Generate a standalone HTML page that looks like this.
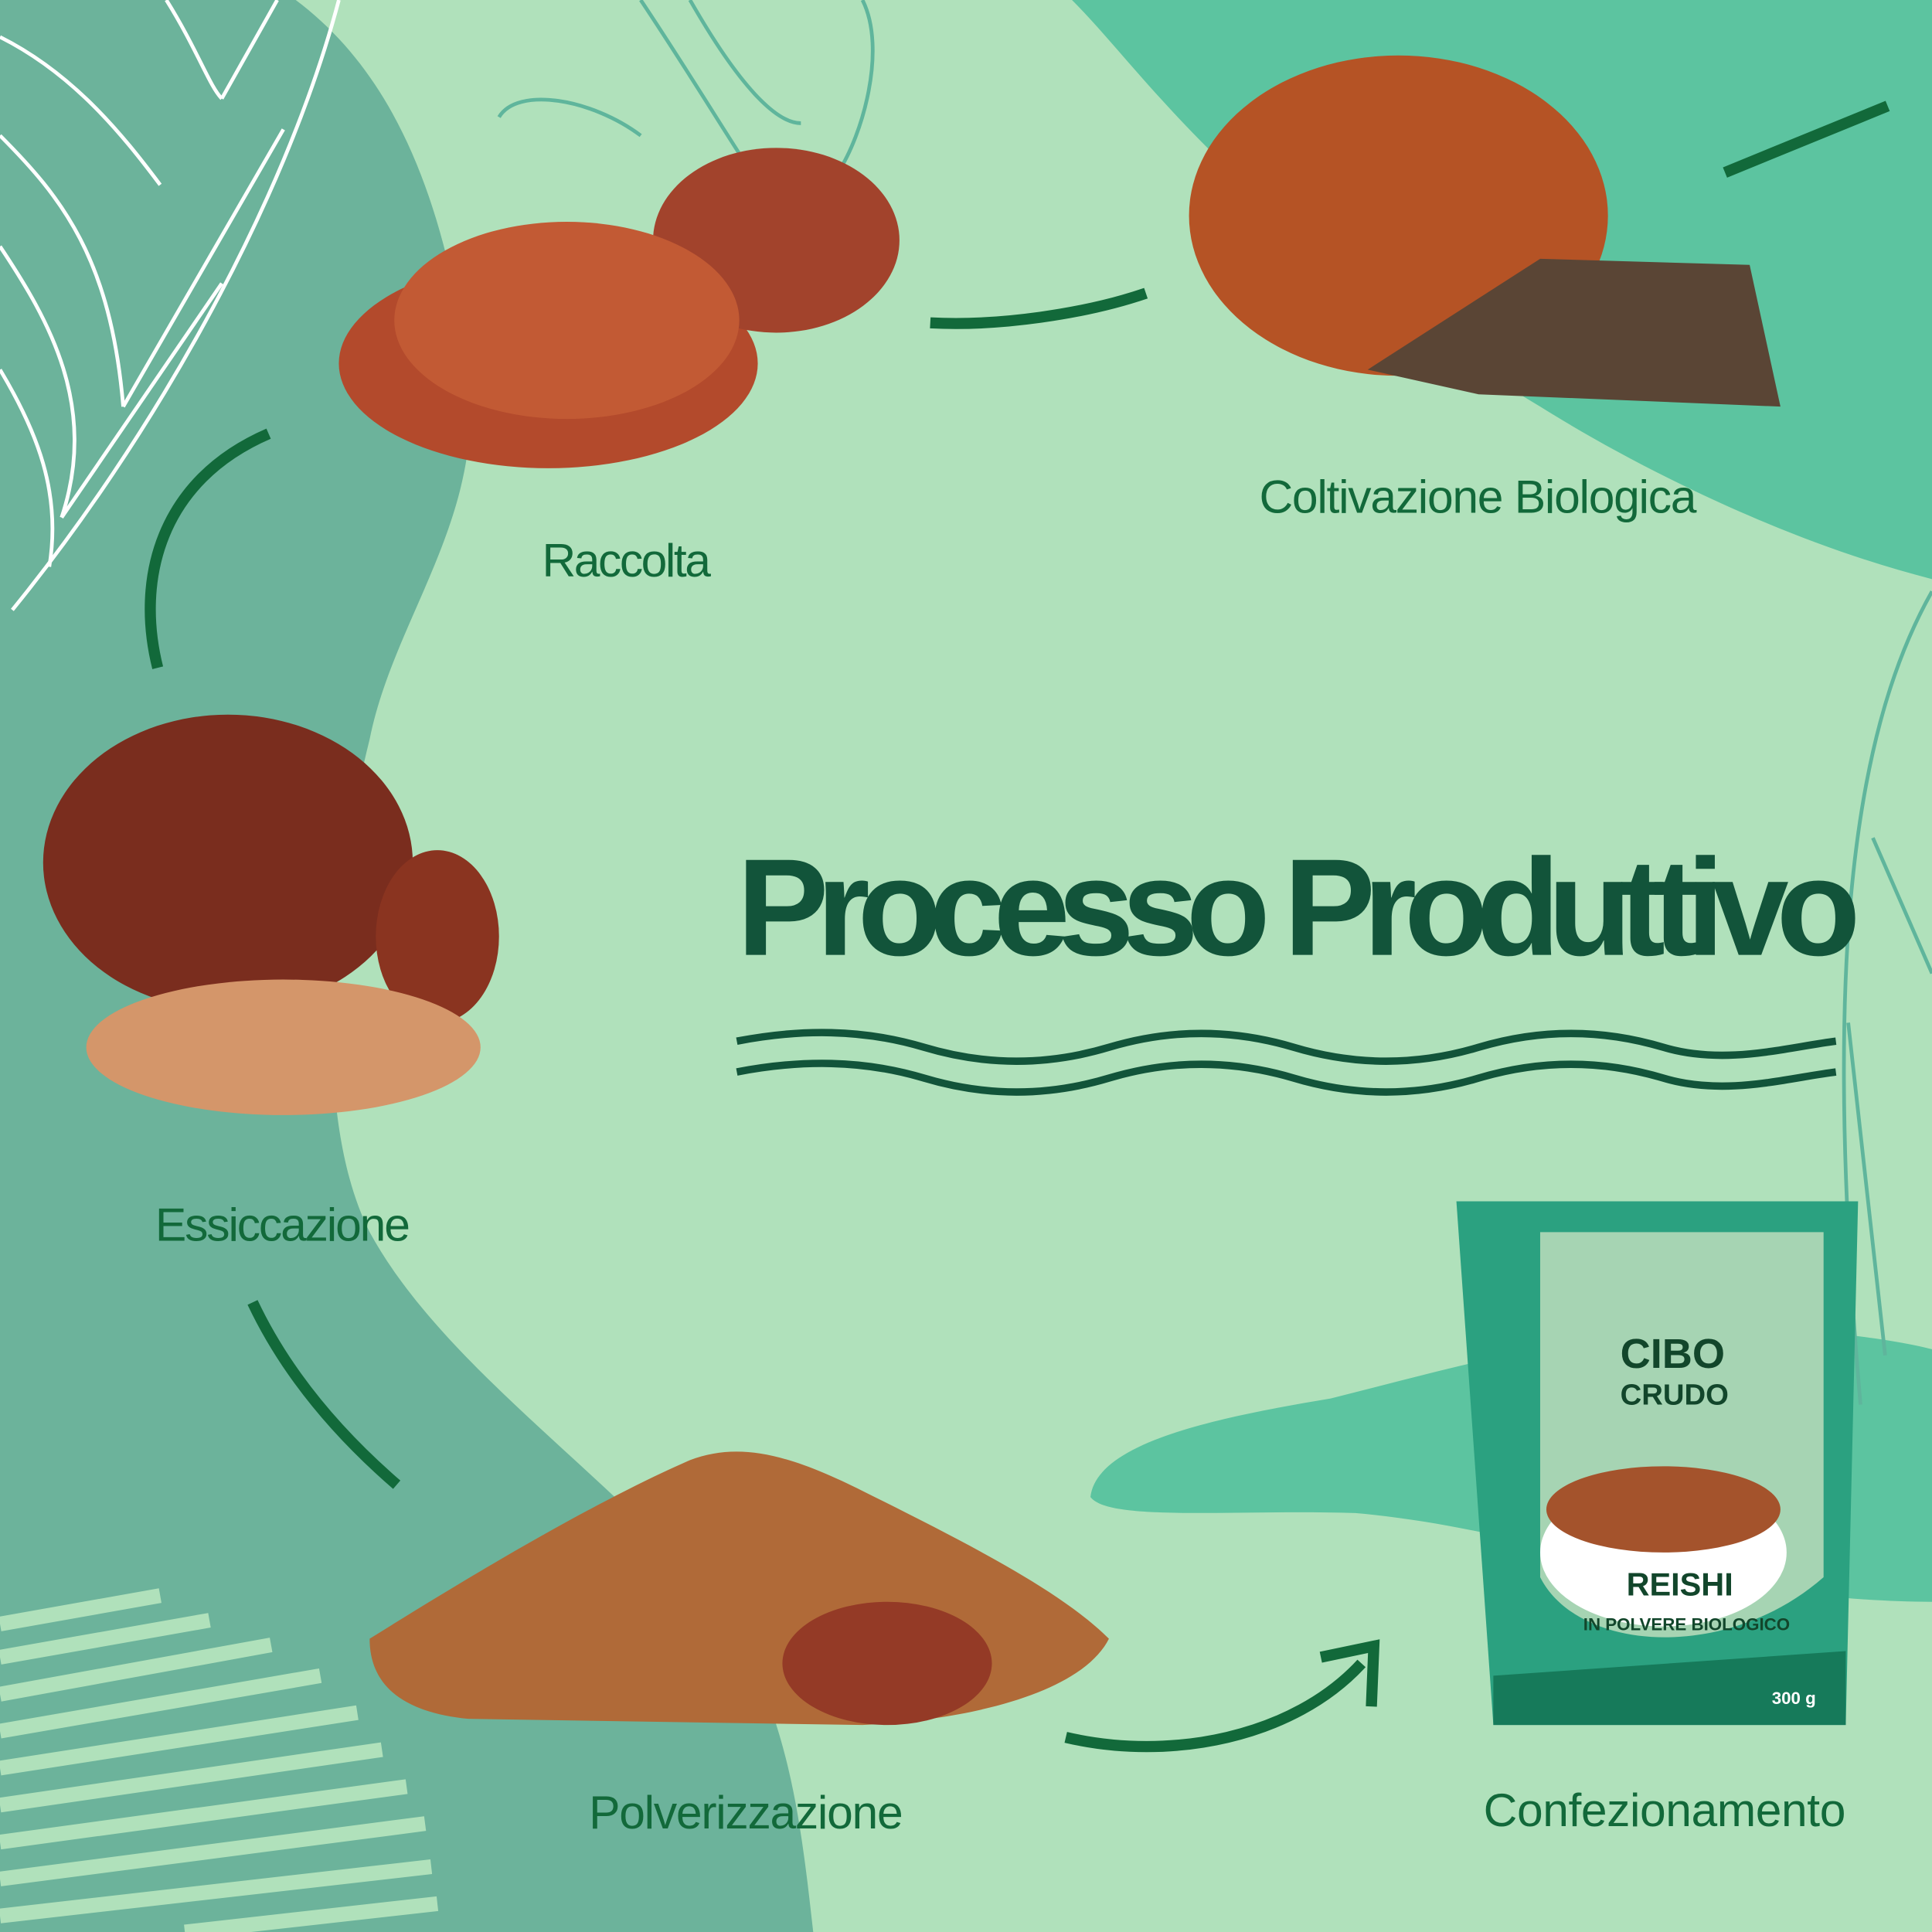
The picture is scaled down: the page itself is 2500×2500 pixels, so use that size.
<!DOCTYPE html>
<html><head><meta charset="utf-8"><style>html,body{margin:0;padding:0;width:2500px;height:2500px;overflow:hidden;background:#b0e1bb}svg{display:block}</style></head><body>
<svg width="2500" height="2500" viewBox="0 0 1568 1568" xmlns="http://www.w3.org/2000/svg">
<rect width="1568" height="1568" fill="#b0e1bb"/>
<path d="M0 0 L240 0 C320 60 360 160 380 300 C395 420 320 500 300 600 C270 720 250 900 300 1000 C360 1110 500 1200 580 1300 C640 1380 650 1480 660 1568 L0 1568 Z" fill="#6cb39b"/>
<path d="M870 0 L1568 0 L1568 470 C1450 440 1330 380 1250 330 C1150 270 1050 200 980 120 C930 70 900 30 870 0 Z" fill="#5cc4a0"/>
<path d="M885 1215 C890 1170 990 1150 1080 1135 C1180 1110 1280 1080 1400 1078 C1480 1078 1540 1088 1568 1095 L1568 1300 C1500 1300 1420 1290 1350 1275 C1250 1255 1180 1235 1100 1228 C1000 1225 900 1235 885 1215 Z" fill="#5cc4a0"/>
<g stroke="#ffffff" stroke-width="3" fill="none">
<path d="M10 495 C120 360 230 170 275 0"/>
<path d="M0 30 C60 60 100 110 130 150"/>
<path d="M0 110 C50 160 90 210 100 330"/>
<path d="M0 200 C40 260 80 330 50 420"/>
<path d="M0 300 C30 350 50 400 40 460"/>
<path d="M135 0 C160 40 170 70 180 80"/>
<path d="M180 80 L225 0"/><path d="M100 330 L230 105"/><path d="M50 420 L180 230"/>
</g>
<g stroke="#5fb59c" stroke-width="3" fill="none">
<path d="M520 0 C560 60 590 110 610 140"/><path d="M560 0 C600 70 630 100 650 100"/><path d="M700 0 C720 40 700 110 680 140"/>
<path d="M405 95 C420 70 480 80 520 110"/>
<path d="M1568 480 C1500 600 1480 800 1510 1140"/><path d="M1520 680 L1568 790"/><path d="M1500 830 L1530 1100"/>
</g>
<g stroke="#b0e1bb" stroke-width="12">
<path d="M0 1318 L130 1295"/><path d="M0 1345 L170 1315"/><path d="M0 1375 L220 1335"/><path d="M0 1405 L260 1360"/><path d="M0 1435 L290 1390"/><path d="M0 1465 L310 1420"/><path d="M0 1495 L330 1450"/><path d="M0 1525 L345 1480"/><path d="M0 1555 L350 1515"/><path d="M150 1568 L355 1545"/>
</g>
<g stroke="#12693a" stroke-width="9" fill="none">
<path d="M755 262 C810 265 880 255 930 238"/>
<path d="M1400 140 L1532 86"/>
<path d="M128 542 C110 470 130 390 218 352"/>
<path d="M205 1057 C230 1110 270 1160 322 1205"/>
<path d="M865 1410 C950 1430 1050 1410 1105 1350"/>
</g>
<path d="M1072 1345 L1115 1336 L1113 1385" stroke="#12693a" stroke-width="9" fill="none"/>
<ellipse cx="445" cy="295" rx="170" ry="85" fill="#b34a2c"/>
<ellipse cx="630" cy="195" rx="100" ry="75" fill="#a2432c"/>
<ellipse cx="460" cy="260" rx="140" ry="80" fill="#c25a34"/>
<ellipse cx="1135" cy="175" rx="170" ry="130" fill="#b55325"/>
<path d="M1110 300 L1250 210 L1420 215 L1445 330 L1200 320 Z" fill="#5a4535"/>
<ellipse cx="185" cy="700" rx="150" ry="120" fill="#7a2d1e"/>
<ellipse cx="355" cy="760" rx="50" ry="70" fill="#8a3420"/>
<ellipse cx="230" cy="850" rx="160" ry="55" fill="#d4966a"/>
<path d="M300 1330 C380 1280 480 1220 560 1185 C600 1170 640 1180 700 1210 C780 1250 860 1290 900 1330 C880 1370 800 1395 700 1400 L380 1395 C330 1390 300 1370 300 1330 Z" fill="#b06a38"/>
<ellipse cx="720" cy="1350" rx="85" ry="50" fill="#943a26"/>
<path d="M1182 975 L1508 975 L1498 1400 L1212 1400 Z" fill="#2ba180"/>
<path d="M1250 1000 L1480 1000 L1480 1280 C1400 1350 1280 1340 1250 1280 Z" fill="#a6d4b3"/>
<ellipse cx="1350" cy="1260" rx="100" ry="60" fill="#ffffff"/>
<ellipse cx="1350" cy="1225" rx="95" ry="35" fill="#a4532c"/>
<path d="M1212 1360 L1498 1340 L1498 1400 L1212 1400 Z" fill="#167a5a"/>
<g font-family="Liberation Sans, sans-serif" fill="#12462b" font-weight="bold">
<text x="1315" y="1110" font-size="34">CIBO</text>
<text x="1315" y="1140" font-size="24">CRUDO</text>
<text x="1320" y="1295" font-size="26">REISHI</text>
<text x="1285" y="1323" font-size="14">IN POLVERE BIOLOGICO</text>
<text x="1438" y="1383" font-size="14" fill="#fff">300 g</text>
</g>
<text x="598" y="775" font-family="Liberation Sans, sans-serif" fill="#12543a" font-size="112" font-weight="bold" textLength="912" lengthAdjust="spacing">Processo Produttivo</text>
<g stroke="#12543a" stroke-width="6" fill="none">
<path d="M598 845 C650 835 700 835 750 850 C800 865 850 865 900 850 C950 835 1000 835 1050 850 C1100 865 1150 865 1200 850 C1250 835 1300 835 1350 850 C1400 865 1450 850 1490 845"/>
<path d="M598 870 C650 860 700 860 750 875 C800 890 850 890 900 875 C950 860 1000 860 1050 875 C1100 890 1150 890 1200 875 C1250 860 1300 860 1350 875 C1400 890 1450 875 1490 870"/>
</g>
<g font-family="Liberation Sans, sans-serif" fill="#12693a" font-size="38">
<text x="440" y="468" textLength="137">Raccolta</text>
<text x="1022" y="416" textLength="355">Coltivazione Biologica</text>
<text x="126" y="1007" textLength="207">Essiccazione</text>
<text x="478" y="1484" textLength="255">Polverizzazione</text>
<text x="1204" y="1482" textLength="294">Confezionamento</text>
</g>
</svg>
</body></html>
